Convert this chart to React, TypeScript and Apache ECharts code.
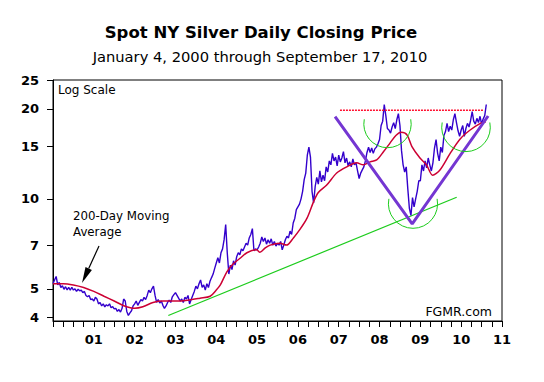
import React, { useEffect, useRef } from "react";
import * as echarts from "echarts";

// Daily closing price at ~two-week steps (26 per year)
const price2000 = [5.2, 5.35, 5.5, 5.15, 5.25, 5.05, 5.12, 4.98, 5.08, 4.96, 5.05, 4.95, 5.06, 4.95, 5.0, 4.9, 4.98, 4.92, 4.95, 4.85, 4.9, 4.75, 4.7, 4.75, 4.6, 4.62];
const price2001 = [4.55, 4.68, 4.62, 4.45, 4.5, 4.38, 4.45, 4.35, 4.42, 4.38, 4.45, 4.32, 4.36, 4.28, 4.3, 4.2, 4.26, 4.18, 4.3, 4.62, 4.55, 4.2, 4.07, 4.15, 4.22, 4.38];
const price2002 = [4.45, 4.55, 4.4, 4.5, 4.6, 4.55, 4.68, 4.6, 4.75, 4.95, 4.85, 5.0, 5.1, 4.75, 4.5, 4.6, 4.48, 4.55, 4.4, 4.3, 4.38, 4.5, 4.58, 4.5, 4.7, 4.78];
const price2003 = [4.85, 4.75, 4.65, 4.55, 4.62, 4.5, 4.68, 4.62, 4.75, 4.45, 4.6, 4.75, 4.9, 5.1, 5.0, 5.2, 5.35, 5.05, 5.15, 4.95, 5.2, 5.05, 5.3, 5.45, 5.6, 5.85];
const price2004 = [6.1, 6.35, 6.1, 6.6, 6.8, 7.3, 8.2, 6.6, 5.6, 6.0, 5.8, 6.2, 6.0, 6.4, 6.6, 6.5, 6.8, 6.7, 6.9, 7.1, 7.0, 7.4, 7.6, 7.95, 6.7, 6.8];
const price2005 = [6.75, 6.9, 7.1, 7.45, 7.2, 7.4, 7.05, 7.3, 7.1, 7.35, 7.0, 7.2, 6.95, 7.1, 7.0, 7.2, 6.75, 7.0, 7.3, 7.5, 7.4, 7.8, 7.6, 8.3, 8.6, 9.2];
const price2006 = [9.4, 9.6, 10.0, 10.6, 11.6, 12.2, 14.0, 14.9, 13.8, 10.6, 9.7, 11.0, 11.8, 11.2, 12.4, 11.4, 12.0, 11.5, 12.8, 12.3, 13.4, 13.0, 14.2, 13.4, 13.8, 12.9];
const price2007 = [14.0, 13.3, 13.7, 14.4, 13.2, 13.7, 12.9, 13.3, 12.8, 13.6, 13.0, 13.2, 12.4, 11.7, 12.2, 12.5, 12.8, 13.4, 14.3, 14.9, 14.3, 14.8, 14.2, 14.7, 14.9, 15.3];
const price2008 = [15.8, 17.6, 18.2, 20.7, 19.0, 17.2, 17.0, 16.6, 17.4, 18.0, 17.2, 18.4, 19.3, 17.6, 14.5, 13.0, 12.3, 12.8, 10.8, 9.3, 8.8, 10.1, 9.4, 10.0, 10.6, 11.5];
const price2009 = [11.5, 13.0, 12.4, 13.4, 12.7, 13.7, 13.0, 12.4, 13.2, 14.8, 15.8, 14.2, 13.4, 14.9, 14.3, 16.3, 16.8, 17.9, 16.8, 17.5, 17.0, 18.4, 19.3, 18.0, 16.9, 16.2];
const price2010 = [17.0, 17.6, 16.2, 17.2, 17.9, 17.4, 18.3, 19.6, 18.2, 17.8, 18.6, 18.0, 18.9, 17.8, 18.5, 19.0, 20.7];
const priceYears = [2000, 2001, 2002, 2003, 2004, 2005, 2006, 2007, 2008, 2009, 2010];
const priceByYear = [price2000, price2001, price2002, price2003, price2004, price2005, price2006, price2007, price2008, price2009, price2010];
const stepsPerYear = 26;

// 200-day moving average
const maDates = [2000.0, 2000.25, 2000.5, 2000.75, 2001.0, 2001.25, 2001.5, 2001.75, 2002.0, 2002.2, 2002.45, 2002.7, 2003.0, 2003.3, 2003.6, 2003.85, 2004.0, 2004.1, 2004.26, 2004.41, 2004.6, 2004.75, 2004.99, 2005.07, 2005.2, 2005.32, 2005.56, 2005.72, 2005.89, 2006.05, 2006.22, 2006.38, 2006.5, 2006.7, 2006.95, 2007.2, 2007.44, 2007.6, 2007.77, 2007.93, 2008.1, 2008.26, 2008.4, 2008.53, 2008.67, 2008.79, 2008.99, 2009.15, 2009.3, 2009.48, 2009.73, 2009.98, 2010.22, 2010.47, 2010.6];
const maValues = [5.2, 5.2, 5.15, 5.05, 4.9, 4.72, 4.55, 4.38, 4.3, 4.35, 4.5, 4.55, 4.55, 4.58, 4.65, 4.72, 4.95, 5.15, 5.7, 6.05, 6.35, 6.6, 6.75, 6.62, 6.85, 7.0, 7.1, 7.0, 7.4, 7.9, 8.6, 9.75, 10.5, 11.1, 12.2, 12.8, 13.2, 13.0, 13.3, 13.5, 14.4, 15.4, 16.3, 16.7, 16.4, 15.0, 13.7, 13.0, 12.0, 12.5, 14.2, 15.9, 17.0, 17.9, 18.1];

// Annotation lines (date, price)
const resistanceDates = [2007.03, 2010.54];
const resistanceValues = [19.8, 19.8];
const vDates = [2006.91, 2008.8, 2010.66];
const vValues = [18.84, 8.24, 18.94];
const trendDates = [2002.825, 2009.89];
const trendValues = [4.07, 10.12];

// Axes
const yTickValues = [4, 5, 7, 10, 15, 20, 25];
const yMin = 3.9;
const yMax = 25;
const xMin = 2000;
const xMax = 2011;

const lg = (v: number) => Math.log10(v);
const pairs = (xs: number[], ys: number[]) => xs.map((x, i) => [x, lg(ys[i])]);

export default function App() {
  const ref = useRef<HTMLDivElement>(null);
  useEffect(() => {
    if (!ref.current) return;
    const chart = echarts.init(ref.current, undefined, { renderer: "svg" });
    const priceData: number[][] = [];
    priceByYear.forEach((arr, k) => {
      arr.forEach((v, i) => priceData.push([priceYears[k] + i / stepsPerYear, lg(v)]));
    });
    const font = "DejaVu Sans";
    const green = "#1ccc1c";
    const arc = (cx: number, cy: number, r: number) => ({
      type: "arc",
      z: 100,
      shape: { cx, cy, r, startAngle: -0.2, endAngle: Math.PI + 0.2, clockwise: true },
      style: { stroke: green, fill: "none", lineWidth: 1 },
    });
    const txt = (text: string, x: number, y: number, size: number, weight: string, align: string) => ({
      type: "text",
      z: 100,
      x,
      y,
      style: {
        text,
        fontSize: size,
        fontFamily: font,
        fontWeight: weight,
        fill: "#000",
        align,
        textAlign: align,
        verticalAlign: "middle",
        textVerticalAlign: "middle",
      },
    });
    chart.setOption({
      animation: false,
      backgroundColor: "#fff",
      grid: { left: 53, right: 42, top: 80, bottom: 61, show: true, borderColor: "#000", borderWidth: 1 },
      xAxis: {
        type: "value",
        min: xMin,
        max: xMax,
        interval: 1,
        axisLine: { lineStyle: { color: "#000", width: 1 } },
        axisTick: { show: true, length: 6, lineStyle: { color: "#000" } },
        minorTick: { show: true, splitNumber: 4, length: 6, lineStyle: { color: "#000" } },
        splitLine: { show: false },
        axisLabel: {
          margin: 12,
          color: "#000",
          fontFamily: font,
          fontWeight: "bold",
          fontSize: 13,
          showMinLabel: true,
          showMaxLabel: true,
          formatter: (v: number) => (v === xMin ? "" : String(Math.round(v) % 100).padStart(2, "0")),
        },
      },
      yAxis: {
        type: "value",
        min: lg(yMin),
        max: lg(yMax),
        axisLine: { show: true, lineStyle: { color: "#000", width: 1 } },
        axisTick: { show: true, length: 6, lineStyle: { color: "#000" }, customValues: yTickValues.map(lg) },
        splitLine: { show: false },
        axisLabel: {
          margin: 14,
          color: "#000",
          fontFamily: font,
          fontWeight: "bold",
          fontSize: 13,
          customValues: yTickValues.map(lg),
          formatter: (v: number) => String(Math.round(Math.pow(10, v))),
        },
      },
      series: [
        {
          type: "line",
          data: pairs(trendDates, trendValues),
          showSymbol: false,
          lineStyle: { color: green, width: 1.2 },
          z: 2,
        },
        {
          type: "line",
          data: priceData,
          showSymbol: false,
          lineStyle: { color: "#3300cc", width: 1.4 },
          z: 3,
        },
        {
          type: "line",
          data: pairs(maDates, maValues),
          showSymbol: false,
          smooth: 0.3,
          lineStyle: { color: "#cc0033", width: 1.5 },
          z: 4,
        },
        {
          type: "line",
          data: pairs(resistanceDates, resistanceValues),
          showSymbol: false,
          lineStyle: { color: "#ff1030", width: 1.5, type: [2, 1] },
          z: 5,
        },
        {
          type: "line",
          data: pairs(vDates, vValues),
          showSymbol: false,
          lineStyle: { color: "#7436d2", width: 3 },
          z: 6,
        },
      ],
      graphic: [
        txt("Spot NY Silver Daily Closing Price", 261, 32, 16.5, "bold", "center"),
        txt("January 4, 2000 through September 17, 2010", 260, 56, 14.7, "normal", "center"),
        txt("Log Scale", 58, 90, 12, "normal", "left"),
        txt("200-Day Moving", 73, 216, 11.8, "normal", "left"),
        txt("Average", 73, 232, 11.8, "normal", "left"),
        txt("FGMR.com", 492, 311, 12.5, "normal", "right"),
        {
          type: "line",
          z: 100,
          shape: { x1: 99, y1: 246, x2: 88.7, y2: 268.5 },
          style: { stroke: "#000", lineWidth: 1.2 },
        },
        {
          type: "polygon",
          z: 100,
          shape: { points: [[82, 283], [91.9, 270.0], [85.5, 267.0]] },
          style: { fill: "#000" },
        },
        arc(387.5, 124, 23.7),
        arc(413, 203.7, 24.6),
        arc(466, 127.3, 24.3),
      ],
    });
    return () => chart.dispose();
  }, []);
  return (
    <div
      ref={ref}
      style={{ position: "fixed", left: 0, top: 0, width: 544, height: 382, background: "#fff" }}
    />
  );
}
